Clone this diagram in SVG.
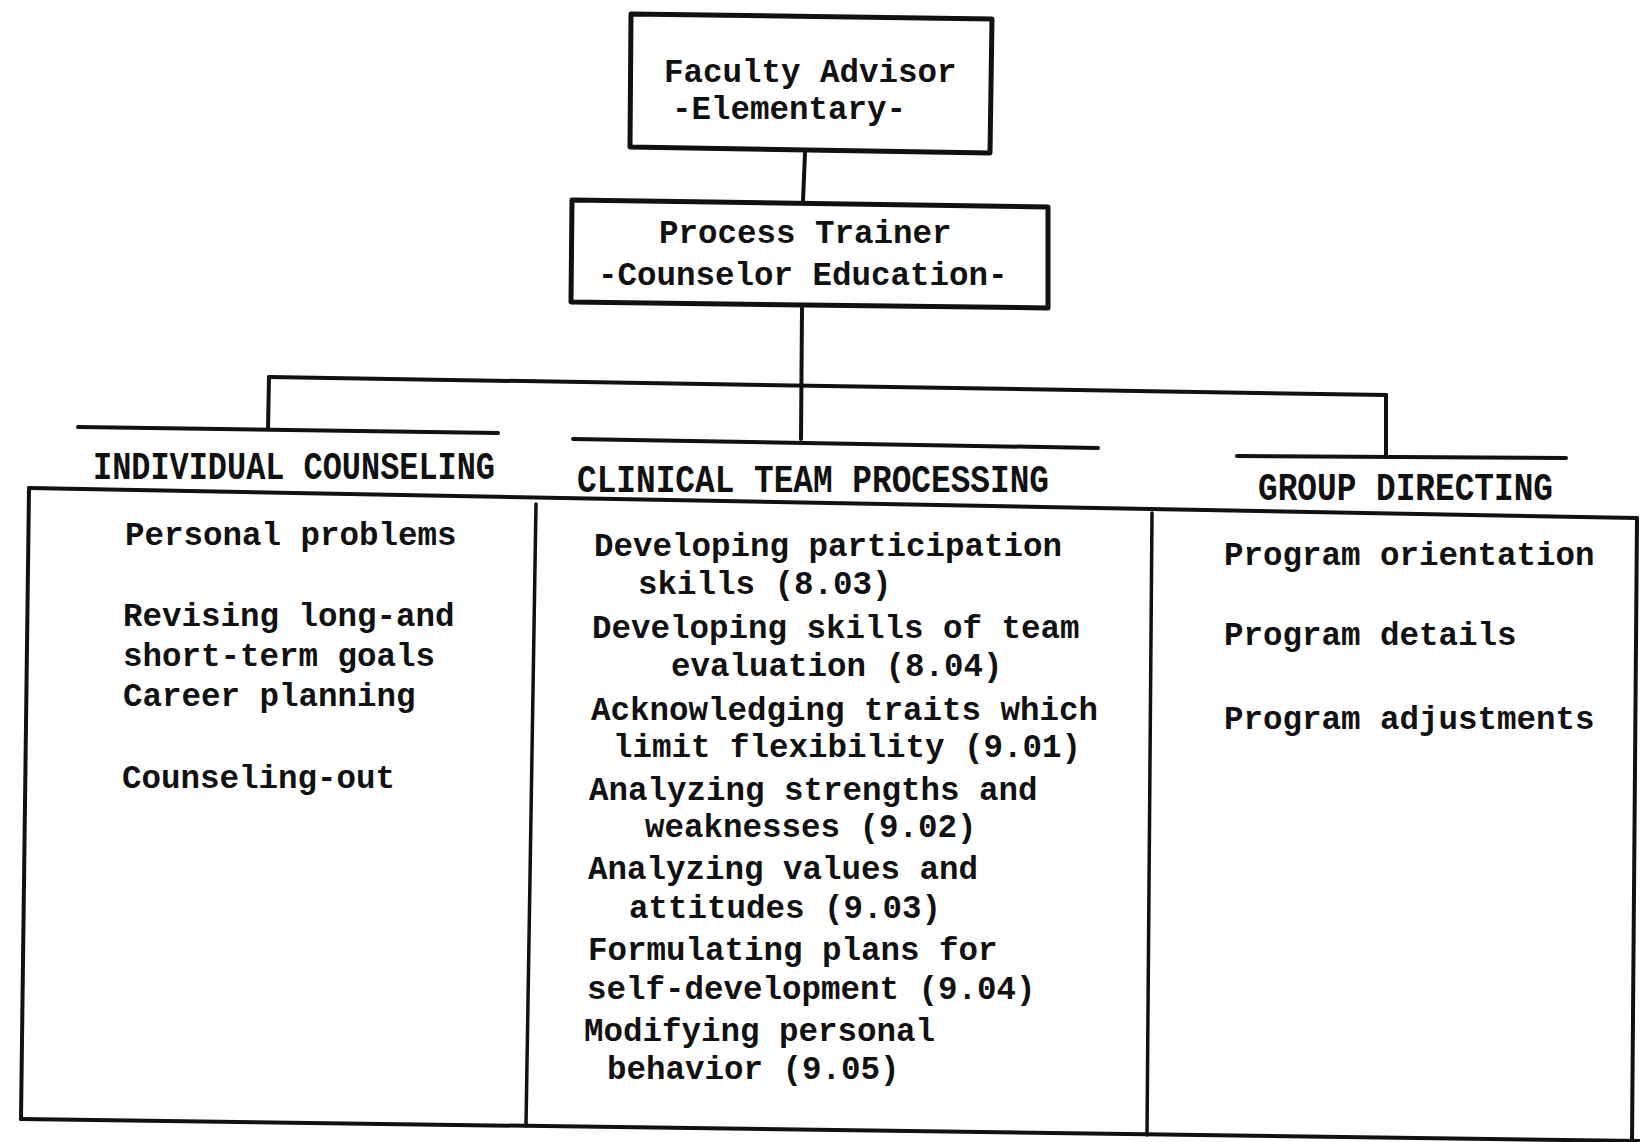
<svg xmlns="http://www.w3.org/2000/svg" width="1640" height="1142" viewBox="0 0 1640 1142">
  <style>
    .txt { font-family: "Liberation Mono", "DejaVu Sans Mono", monospace; font-weight: bold; font-size: 32.5px; fill: #111; }
    .hdr { font-family: "Liberation Mono", "DejaVu Sans Mono", monospace; font-weight: bold; font-size: 38px; fill: #111; }
    .box { fill: #fff; stroke: #111; stroke-width: 5; stroke-linejoin: round; }
    .ln { fill: none; stroke: #111; stroke-width: 4; stroke-linecap: round; stroke-linejoin: round; }
    .thin { fill: none; stroke: #111; stroke-width: 3.5; stroke-linecap: round; }
  </style>
  <rect width="1640" height="1142" fill="#fff"/>

  <!-- connectors: box-to-box links, distribution bar and header rules -->
  <g id="connectors">
    <path class="ln" d="M805 153 L803 201"/>
    <path class="ln" d="M802 308 L801 439"/>
    <path class="ln" d="M269 377 L1386 395"/>
    <path class="ln" d="M269 377 L268 429"/>
    <path class="ln" d="M1386 395 L1386 457"/>
    <path class="ln" d="M78 427 L498 433"/>
    <path class="ln" d="M573 439 L1098 448"/>
    <path class="ln" d="M1237 456 L1566 458"/>
  </g>

  <!-- top level -->
  <g id="node-faculty">
    <path class="box" d="M631 14 L992 19 L990 153 L630 147 Z"/>
    <text class="txt" x="664" y="82">Faculty Advisor</text>
    <text class="txt" x="672" y="119">-Elementary-</text>
  </g>

  <g id="node-process">
    <path class="box" d="M572 200 L1048 207 L1048 308 L571 302 Z"/>
    <text class="txt" x="659" y="243">Process Trainer</text>
    <text class="txt" x="598" y="285">-Counselor Education-</text>
  </g>

  <!-- table frame with two column dividers -->
  <g id="table">
    <path class="ln" d="M29 488 L1637 518"/>
    <path class="ln" d="M29 488 L21 1119"/>
    <path class="ln" d="M21 1119 L1640 1141"/>
    <path class="ln" d="M1637 518 L1632 1142"/>
    <path class="thin" d="M536 504 L526 1126"/>
    <path class="thin" d="M1152 513 L1147 1135"/>
  </g>

  <g id="node-individual">
    <text class="hdr" x="93" y="479" textLength="402" lengthAdjust="spacingAndGlyphs">INDIVIDUAL COUNSELING</text>
    <text class="txt" x="125" y="545">Personal problems</text>
    <text class="txt" x="123" y="626">Revising long-and</text>
    <text class="txt" x="123" y="666">short-term goals</text>
    <text class="txt" x="123" y="706">Career planning</text>
    <text class="txt" x="122" y="788">Counseling-out</text>
  </g>

  <g id="node-clinical">
    <text class="hdr" x="577" y="492" textLength="472" lengthAdjust="spacingAndGlyphs">CLINICAL TEAM PROCESSING</text>
    <text class="txt" x="594" y="556">Developing participation</text>
    <text class="txt" x="638" y="594">skills (8.03)</text>
    <text class="txt" x="592" y="638">Developing skills of team</text>
    <text class="txt" x="671" y="676">evaluation (8.04)</text>
    <text class="txt" x="591" y="720">Acknowledging traits which</text>
    <text class="txt" x="613" y="757">limit flexibility (9.01)</text>
    <text class="txt" x="589" y="800">Analyzing strengths and</text>
    <text class="txt" x="645" y="837">weaknesses (9.02)</text>
    <text class="txt" x="588" y="879">Analyzing values and</text>
    <text class="txt" x="629" y="918">attitudes (9.03)</text>
    <text class="txt" x="588" y="960">Formulating plans for</text>
    <text class="txt" x="587" y="999">self-development (9.04)</text>
    <text class="txt" x="584" y="1041">Modifying personal</text>
    <text class="txt" x="607" y="1079">behavior (9.05)</text>
  </g>

  <g id="node-group">
    <text class="hdr" x="1258" y="500" textLength="295" lengthAdjust="spacingAndGlyphs">GROUP DIRECTING</text>
    <text class="txt" x="1224" y="565">Program orientation</text>
    <text class="txt" x="1224" y="645">Program details</text>
    <text class="txt" x="1224" y="729">Program adjustments</text>
  </g>
</svg>
